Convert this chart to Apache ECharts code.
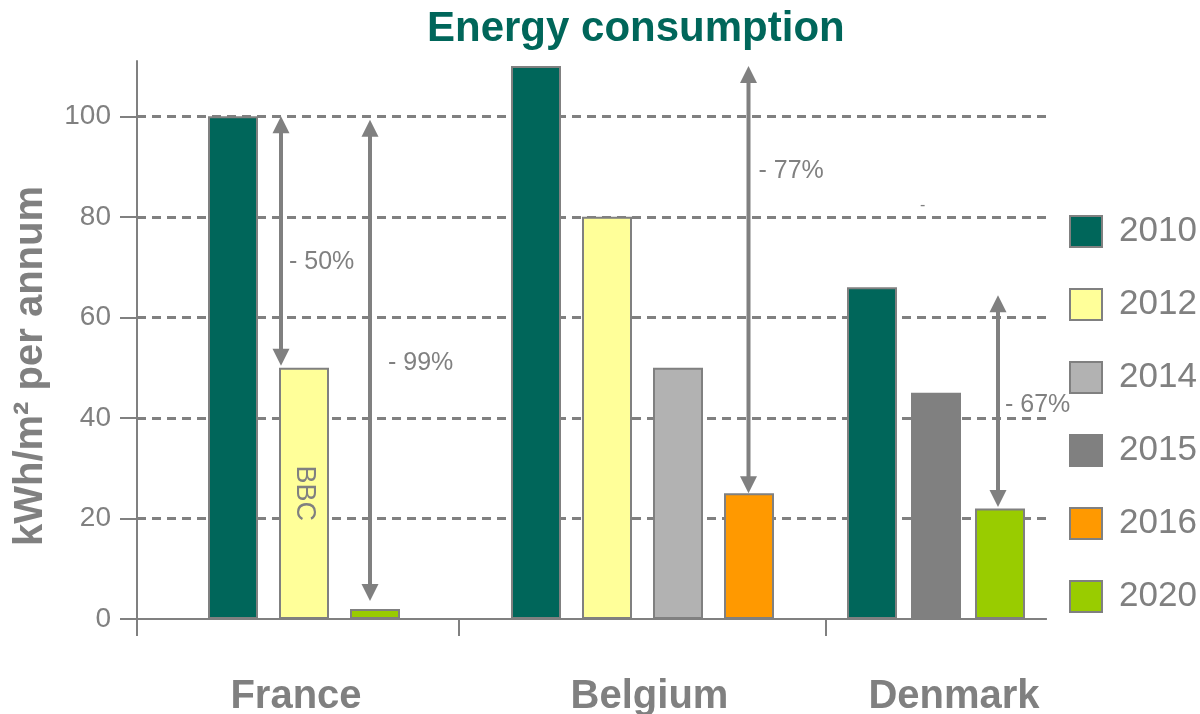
<!DOCTYPE html>
<html>
<head>
<meta charset="utf-8">
<title>Energy consumption</title>
<script src="https://cdn.jsdelivr.net/npm/echarts@6/dist/echarts.min.js"></script>
<style>
  html, body { margin: 0; padding: 0; background: #fff; }
  #chart { width: 1200px; height: 714px; }
</style>
</head>
<body>
<div id="chart"></div>
<script>
// data
const countries = ['France', 'Belgium', 'Denmark']
const years = ['2010', '2012', '2014', '2015', '2016', '2020']
const franceYears = ['2010', '2012', '2020']
const franceValues = [100, 50, 2]
const belgiumYears = ['2010', '2012', '2014', '2016']
const belgiumValues = [110, 80, 50, 25]
const denmarkYears = ['2010', '2015', '2020']
const denmarkValues = [66, 45, 22]
const yTicks = [0, 20, 40, 60, 80, 100]
const yMax = 111

// reduction arrows (values in kWh/m²); a note without from/to is text only
const arrowNotes = [
  { country: 'France', from: 100, to: 50.4, label: '- 50%', labelAt: 71 },
  { country: 'France', from: 99.3, to: 3.6, label: '- 99%', labelAt: 51 },
  { country: 'Belgium', from: 110, to: 25, label: '- 77%', labelAt: 89 },
  { country: 'Denmark', from: 64.4, to: 22.3, label: '- 67%', labelAt: 42.5 },
  { country: 'Denmark', from: null, to: null, label: '-', labelAt: 82.3 }
]
const barNotes = { 'France-2012': 'BBC' }

// styles
const gray = '#808080'
const teal = '#00665A'
const font = '"Liberation Sans", Arial, sans-serif'
const yearColors = {
  '2010': '#00665A',
  '2012': '#FFFF99',
  '2014': '#B2B2B2',
  '2015': '#808080',
  '2016': '#FF9900',
  '2020': '#99CC00'
}
// one grid per country
const countryLayout = [
  { left: 143, width: 322, barGap: '42%', labelPad: [0, 16, 0, 0], tick: false },
  { left: 459, width: 367, barGap: '42%', labelPad: [0, 0, 0, 14], tick: true },
  { left: 826, width: 220, barGap: '28%', labelPad: [0, 0, 0, 36], tick: false }
]
// arrow x shift from the country centre, gap to its text, text size (px)
const noteLayout = {
  '- 50%': { dx: -23, gap: 8, size: 25 },
  '- 99%': { dx: 66, gap: 18, size: 25 },
  '- 77%': { dx: 106, gap: 10, size: 25 },
  '- 67%': { dx: 62, gap: 7, size: 25 },
  '-': { dx: -16, gap: 0, size: 16 }
}
const plotTop = 61
const plotBottom = 95

const countryData = {
  France: { years: franceYears, values: franceValues },
  Belgium: { years: belgiumYears, values: belgiumValues },
  Denmark: { years: denmarkYears, values: denmarkValues }
}

const grids = [{ left: 137, right: 154, top: plotTop, bottom: plotBottom, outerBoundsMode: 'none' }]
const xAxes = [{
  gridIndex: 0,
  type: 'value',
  min: 0,
  max: 1,
  axisLine: { show: true, lineStyle: { color: gray, width: 2 } },
  axisTick: { show: true, length: 17, customValues: [0], lineStyle: { color: gray, width: 2 } },
  axisLabel: { show: false },
  splitLine: { show: false }
}]
const yAxes = [{
  gridIndex: 0,
  type: 'value',
  min: 0,
  max: yMax,
  interval: 20,
  name: 'kWh/m² per annum',
  nameLocation: 'middle',
  nameRotate: 90,
  nameGap: 86,
  nameTextStyle: { color: gray, fontSize: 40, fontWeight: 'bold', fontFamily: font, padding: [0, 52, 0, 0] },
  axisLine: { show: true, lineStyle: { color: gray, width: 2 } },
  axisTick: { show: true, length: 17, customValues: yTicks, lineStyle: { color: gray, width: 2 } },
  axisLabel: { color: gray, fontSize: 28, fontFamily: font, margin: 26, customValues: yTicks },
  splitLine: { show: true, showMinLine: false, lineStyle: { color: gray, width: 3, type: [9, 6] } }
}]
const series = []

function renderNote(notes) {
  return function (params, api) {
    const n = notes[params.dataIndex]
    const lay = noteLayout[n.label]
    const mid = api.coord([api.value(0), api.value(3)])
    const x = mid[0] + lay.dx
    const children = []
    if (n.from != null) {
      const top = api.coord([api.value(0), api.value(1)])
      const bottom = api.coord([api.value(0), api.value(2)])
      const head = 17
      const half = 8.5
      children.push(
        {
          type: 'line',
          shape: { x1: x, y1: top[1] + head - 2, x2: x, y2: bottom[1] - head + 2 },
          style: { stroke: gray, lineWidth: 4 }
        },
        {
          type: 'polygon',
          shape: { points: [[x, top[1]], [x - half, top[1] + head], [x + half, top[1] + head]] },
          style: { fill: gray }
        },
        {
          type: 'polygon',
          shape: { points: [[x, bottom[1]], [x - half, bottom[1] - head], [x + half, bottom[1] - head]] },
          style: { fill: gray }
        }
      )
    }
    children.push({
      type: 'text',
      x: x + lay.gap,
      y: mid[1],
      style: {
        text: n.label, fill: gray, fontSize: lay.size, fontFamily: font,
        align: 'left', verticalAlign: 'middle'
      }
    })
    return { type: 'group', children }
  }
}

countries.forEach((country, i) => {
  const g = i + 1
  const lay = countryLayout[i]
  const d = countryData[country]
  grids.push({ left: lay.left, width: lay.width, top: plotTop, bottom: plotBottom, outerBoundsMode: 'none' })
  xAxes.push({
    gridIndex: g,
    type: 'category',
    data: [country],
    boundaryGap: true,
    axisLine: { show: i > 0, lineStyle: { color: gray, width: 2 } },
    axisTick: { show: lay.tick, length: 17, lineStyle: { color: gray, width: 2 } },
    axisLabel: {
      color: gray, fontSize: 40, fontWeight: 'bold', fontFamily: font,
      margin: 58, padding: lay.labelPad
    }
  })
  yAxes.push({ gridIndex: g, type: 'value', min: 0, max: yMax, show: false })

  d.years.forEach((yr, k) => {
    const note = barNotes[country + '-' + yr]
    series.push({
      type: 'bar',
      name: yr,
      xAxisIndex: g,
      yAxisIndex: g,
      data: [d.values[k]],
      barWidth: 50,
      barGap: lay.barGap,
      silent: true,
      itemStyle: { color: yearColors[yr], borderColor: gray, borderWidth: 2 },
      label: note ? {
        show: true, position: 'inside', rotate: -90, formatter: note,
        color: gray, fontSize: 27, fontFamily: font
      } : { show: false }
    })
  })

  const notes = arrowNotes.filter(n => n.country === country)
  if (notes.length) {
    series.push({
      type: 'custom',
      name: 'notes-' + country,
      xAxisIndex: g,
      yAxisIndex: g,
      silent: true,
      z: 5,
      data: notes.map(n => [n.country, n.from == null ? n.labelAt : n.from, n.to == null ? n.labelAt : n.to, n.labelAt]),
      encode: { x: 0, y: [1, 2, 3] },
      renderItem: renderNote(notes)
    })
  }
})

const chart = echarts.init(document.getElementById('chart'))
chart.setOption({
  animation: false,
  backgroundColor: '#ffffff',
  title: {
    text: 'Energy consumption',
    left: 427,
    top: 8,
    padding: 0,
    textStyle: { color: teal, fontSize: 42, fontWeight: 'bold', fontFamily: font }
  },
  legend: {
    data: years,
    orient: 'vertical',
    left: 1069,
    top: 214,
    padding: 0,
    icon: 'rect',
    itemWidth: 32,
    itemHeight: 31,
    itemGap: 38,
    selectedMode: false,
    itemStyle: { borderColor: gray, borderWidth: 2 },
    textStyle: { color: gray, fontSize: 35, fontFamily: font, padding: [0, 0, 0, 12] }
  },
  grid: grids,
  xAxis: xAxes,
  yAxis: yAxes,
  series: series
})
window.addEventListener('resize', () => chart.resize())
</script>
</body>
</html>
